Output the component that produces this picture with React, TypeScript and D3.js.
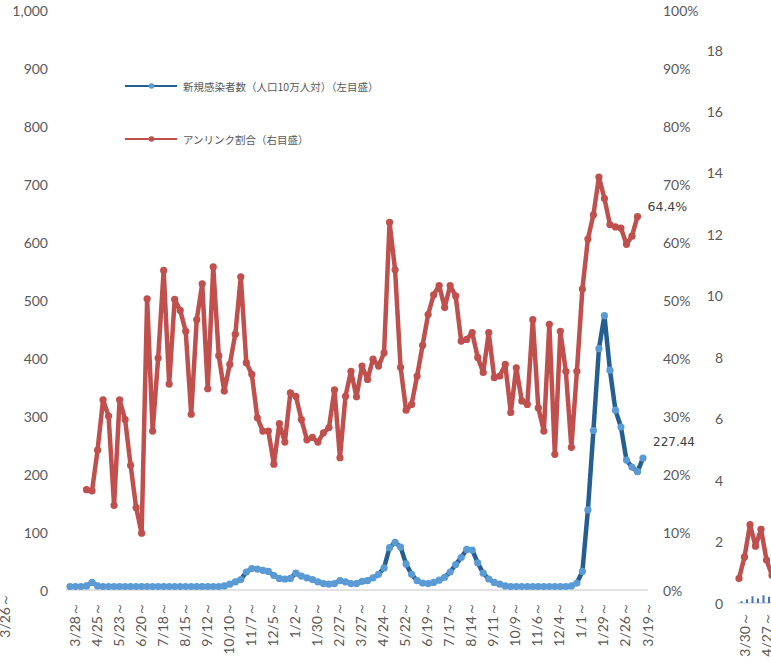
import React from "react";
import * as d3 from "d3";

// Category tick labels (every 4th week)
const tickLabels: string[] = [
  "3/28～", "4/25～", "5/23～", "6/20～", "7/18～", "8/15～", "9/12～", "10/10～",
  "11/7～", "12/5～", "1/2～", "1/30～", "2/27～", "3/27～", "4/24～", "5/22～",
  "6/19～", "7/17～", "8/14～", "9/11～", "10/9～", "11/6～", "12/4～", "1/1～",
  "1/29～", "2/26～", "3/19～",
];

// 新規感染者数（人口10万人対）weekly values (left axis)
const newCases: number[] = [
  6, 6, 6, 7, 13, 7, 6, 6, 6, 6,
  6, 6, 6, 6, 6, 6, 6, 6, 6, 6,
  6, 6, 6, 6, 6, 6, 6, 6, 7, 10,
  14, 18, 31, 37, 36, 34, 32, 25, 20, 19,
  20, 29, 24, 21, 18, 14, 11, 10, 11, 16,
  14, 11, 11, 15, 16, 21, 27, 38, 73, 82,
  74, 45, 27, 16, 12, 11, 13, 17, 22, 31,
  44, 56, 70, 69, 47, 29, 19, 13, 10, 7,
  6, 6, 6, 6, 6, 6, 6, 6, 6, 6,
  6, 7, 12, 32, 138, 275, 416, 473, 379, 310,
  281, 224, 212, 204, 227.44,
];

// アンリンク割合 (%) weekly values (right axis)
const unlinked: (number | null)[] = [
  null, null, null,
  17.3, 17.1, 24.1, 32.8, 30.0, 14.6, 32.8, 29.4, 21.5, 14.2,
  9.8, 50.2, 27.4, 40.0, 55.1, 35.5, 50.1, 48.2, 44.6, 30.3,
  46.6, 52.8, 34.7, 55.7, 40.4, 34.3, 38.9, 44.1, 54.0, 39.2,
  37.2, 29.7, 27.4, 27.4, 21.7, 28.7, 25.5, 34.0, 33.4, 29.4,
  25.9, 26.3, 25.5, 27.1, 28.0, 34.5, 22.8, 33.4, 37.7, 33.3,
  38.6, 36.3, 39.8, 38.6, 40.9, 63.4, 55.2, 38.4, 31.0, 32.0,
  36.9, 42.2, 47.5, 50.9, 52.5, 48.7, 52.5, 50.7, 42.9, 43.2,
  44.4, 40.1, 37.5, 44.4, 36.6, 36.9, 38.9, 30.6, 38.3, 32.6,
  32.0, 46.6, 31.4, 27.4, 45.8, 23.4, 44.6, 37.7, 24.6, 37.7,
  51.9, 60.5, 64.7, 71.2, 67.5, 63.0, 62.6, 62.4, 59.6, 61.0, 64.4,
  null,
];

// Neighbouring (cropped) chart on the right
const nextTickLabels: string[] = ["3/30～", "4/27～"];
const nextLine: number[] = [0.8, 1.5, 2.55, 1.85, 2.4, 1.4, 0.9];
const nextBars: number[] = [0.06, 0.12, 0.22, 0.15, 0.25, 0.2, 0.18];
const nextTicks: number[] = [0, 2, 4, 6, 8, 10, 12, 14, 16, 18];

const legendItems = [
  { label: "新規感染者数（人口10万人対）（左目盛）", line: "#255E91", dot: "#5B9BD5" },
  { label: "アンリンク割合（右目盛）", line: "#C0504D", dot: "#C0504D" },
];

const AXIS_FONT = "Lato, 'Liberation Sans', sans-serif";
const CJK_FONT = "'Noto Sans CJK JP', sans-serif";
const GRAY = "#595959";

export default function App() {
  const n = newCases.length;
  const x = d3.scaleLinear().domain([0, n - 1]).range([70, 643]);
  const yL = d3.scaleLinear().domain([0, 1000]).range([590, 10]);
  const yR = d3.scaleLinear().domain([0, 1]).range([590, 10]);

  const blueLine = d3
    .line<number>()
    .x((_, i) => x(i))
    .y((d) => yL(d));
  const redLine = d3
    .line<number | null>()
    .defined((d) => d !== null)
    .x((_, i) => x(i))
    .y((d) => yR((d as number) / 100));

  const x2 = d3.scaleLinear().domain([0, 1]).range([739, 744.5]);
  const y2 = d3.scaleLinear().domain([0, 18]).range([603, 50]);
  const line2 = d3
    .line<number>()
    .x((_, i) => x2(i))
    .y((d) => y2(d));

  const lastBlue = newCases[n - 1];
  let lastRedIdx = 0;
  unlinked.forEach((v, i) => {
    if (v !== null) lastRedIdx = i;
  });
  const lastRed = unlinked[lastRedIdx] as number;

  return (
    <svg
      width={771}
      height={671}
      style={{ position: "absolute", left: 0, top: 0, background: "#fff" }}
    >
      {/* left partial label from previous chart */}
      <text
        transform={`translate(4,593) rotate(-90)`}
        textAnchor="end"
        dominantBaseline="central"
        fontFamily={AXIS_FONT}
        fontSize={14}
        fill={GRAY}
      >
        3/26～
      </text>

      {/* baseline */}
      <line x1={66} x2={648} y1={yL(0)} y2={yL(0)} stroke="#D9D9D9" strokeWidth={1.5} />

      {/* left axis */}
      {yL.ticks(10).map((t) => (
        <text
          key={"l" + t}
          x={48}
          y={yL(t)}
          textAnchor="end"
          dominantBaseline="central"
          fontFamily={AXIS_FONT}
          fontSize={14}
          fill={GRAY}
        >
          {d3.format(",")(t)}
        </text>
      ))}

      {/* right axis */}
      {yR.ticks(10).map((t) => (
        <text
          key={"r" + t}
          x={663}
          y={yR(t)}
          textAnchor="start"
          dominantBaseline="central"
          fontFamily={AXIS_FONT}
          fontSize={14}
          fill={GRAY}
        >
          {d3.format(".0%")(t)}
        </text>
      ))}

      {/* x labels */}
      {tickLabels.map((lab, k) => (
        <text
          key={"x" + k}
          transform={`translate(${x(k * 4) + 4},602) rotate(-90)`}
          textAnchor="end"
          dominantBaseline="central"
          fontFamily={AXIS_FONT}
          fontSize={14}
          fill={GRAY}
        >
          {lab}
        </text>
      ))}

      {/* blue series */}
      <path d={blueLine(newCases) || ""} fill="none" stroke="#255E91" strokeWidth={4.5} strokeLinejoin="round" />
      {newCases.map((v, i) => (
        <circle key={"b" + i} cx={x(i)} cy={yL(v)} r={3.6} fill="#5B9BD5" />
      ))}

      {/* red series */}
      <path d={redLine(unlinked) || ""} fill="none" stroke="#C0504D" strokeWidth={4.5} strokeLinejoin="round" />
      {unlinked.map((v, i) =>
        v === null ? null : <circle key={"r" + i} cx={x(i)} cy={yR(v / 100)} r={3.6} fill="#C0504D" />
      )}

      {/* data labels */}
      <text x={x(lastRedIdx) + 10} y={yR(lastRed / 100) - 10} dominantBaseline="central" fontFamily="'DejaVu Sans', sans-serif" fontSize={12.5} fill="#404040">
        {lastRed.toFixed(1)}%
      </text>
      <text x={x(n - 1) + 10} y={yL(lastBlue) - 16} dominantBaseline="central" fontFamily="'DejaVu Sans', sans-serif" fontSize={12} fill="#404040">
        {lastBlue.toFixed(2)}
      </text>

      {/* legend */}
      {legendItems.map((it, k) => {
        const ly = 86 + k * 53;
        return (
          <g key={"lg" + k}>
            <line x1={125} x2={177} y1={ly} y2={ly} stroke={it.line} strokeWidth={2.2} />
            <circle cx={151.5} cy={ly} r={2.8} fill={it.dot} />
            <text x={183} y={ly} dominantBaseline="central" fontFamily={CJK_FONT} fontSize={10.5} fill={GRAY}>
              {it.label}
            </text>
          </g>
        );
      })}

      {/* neighbouring chart (cropped) */}
      {nextTicks.map((t) => (
        <text
          key={"n" + t}
          x={723}
          y={y2(t)}
          textAnchor="end"
          dominantBaseline="central"
          fontFamily={AXIS_FONT}
          fontSize={14}
          fill={GRAY}
        >
          {t}
        </text>
      ))}
      <line x1={737} x2={771} y1={y2(0)} y2={y2(0)} stroke="#D9D9D9" strokeWidth={1.5} />
      {nextBars.map((v, i) => (
        <rect key={"nb" + i} x={x2(i) + 1.5} y={y2(v)} width={2} height={y2(0) - y2(v)} fill="#4472C4" />
      ))}
      <path d={line2(nextLine) || ""} fill="none" stroke="#C0504D" strokeWidth={4.5} strokeLinejoin="round" />
      {nextLine.map((v, i) => (
        <circle key={"nl" + i} cx={x2(i)} cy={y2(v)} r={3.6} fill="#C0504D" />
      ))}
      {nextTickLabels.map((lab, k) => (
        <text
          key={"nx" + k}
          transform={`translate(${x2(k * 4) + 5},612) rotate(-90)`}
          textAnchor="end"
          dominantBaseline="central"
          fontFamily={AXIS_FONT}
          fontSize={14}
          fill={GRAY}
        >
          {lab}
        </text>
      ))}
    </svg>
  );
}
